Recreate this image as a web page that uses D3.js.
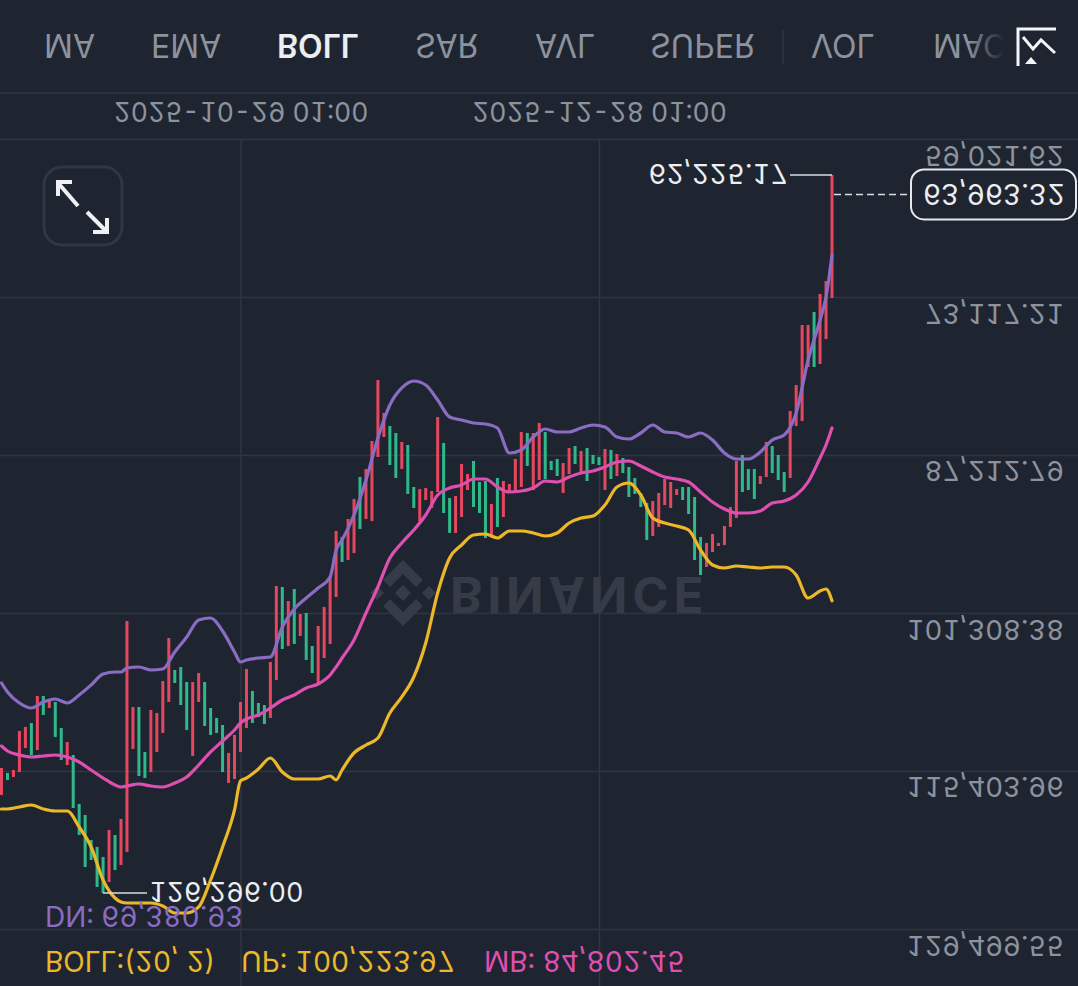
<!DOCTYPE html>
<html>
<head>
<meta charset="utf-8">
<script src="https://cdn.jsdelivr.net/npm/d3@7/dist/d3.min.js"></script>
<style>
    html, body { margin: 0; padding: 0; background: #1f2530; }
    svg { display: block; }
    text { font-family: Inter, "Noto Sans", sans-serif; font-variant-numeric: tabular-nums; font-feature-settings: "tnum" 1; }
</style>
</head>
<body>
<svg id="chart" width="1078" height="986"></svg>
<script>
// the whole screenshot is upside down, so low prices sit at the top and every label is mirrored
const tabs = ["MA", "EMA", "BOLL", "SAR", "AVL", "SUPER", "VOL", "MACD"];
const activeTab = "BOLL";
const priceTicks = [59021.62, 73117.21, 87212.79, 101308.38, 115403.96, 129499.55];
const dateTicks = ["2025-10-29 01:00", "2025-12-28 01:00"];
const firstDay = "2025-09-19 01:00";
const lastPrice = 63963.32;

const candleColors = [
    "rgrrrgrgrg", "grggggggrg", "rrrggrrrrg", "ggrrggggrr", "rrgggrrgrg", "rggrrrrgrr", "grrrrggrgg",
    "rrrrggrrrg", "ggrgrrrrgr", "rgggrrgrgg", "grgrgggggr", "rrrrggggrr", "rrrrgggrrg", "ggrrrrgrrr"
].join("").split("");
const candleLows = [
    115136, 115582, 115314, 111834, 111477, 111121, 108712, 108712, 109069, 109247,
    111567, 112815, 113975, 118347, 119328, 121558, 122182, 123074, 120666, 121112,
    119685, 102021, 109693, 109693, 113707, 109961, 110229, 107374, 103538, 106393,
    106125, 107463, 107463, 106660, 107463, 109783, 110675, 111299, 113796, 112191,
    109247, 106303, 108266, 109336, 109515, 105679, 98899, 98988, 100237, 99167,
    101397, 101308, 104251, 102467, 100772, 98096, 93992, 94527, 92922, 91138,
    89175, 88462, 85963, 80522, 83466, 84625, 85250, 86052, 86320, 90068,
    90247, 90157, 90425, 83823, 86141, 91049, 90870, 88016, 88908, 87747,
    89621, 89532, 91584, 89264, 89532, 89799, 87569, 85160, 85250, 85250,
    84357, 85160, 87747, 87569, 87926, 86587, 86409, 86855, 86587, 87212,
    87390, 86676, 86765, 87123, 87479, 88283, 89264, 90603, 91495, 91316,
    90603, 89354, 89621, 90247, 90068, 90068, 90959, 94527, 95062, 94260,
    95062, 93546, 91851, 87747, 87212, 88462, 88462, 89086, 86052, 86409,
    87212, 88730, 83287, 80968, 75615, 75615, 74456, 72850, 71690, 62225.17
];
const candleHighs = [
    117544, 116206, 115938, 115492, 113351, 113975, 113529, 110407, 109783, 112369,
    114422, 114868, 118704, 121112, 123967, 123343, 125751, 126296, 125305, 124235,
    123789, 122628, 113440, 115849, 116028, 115492, 113707, 112013, 109247, 107552,
    109515, 111745, 114064, 109247, 111388, 112191, 112013, 115492, 116474, 116117,
    113707, 111567, 111121, 110586, 111210, 110675, 107285, 104519, 104251, 104073,
    103360, 105501, 106660, 107552, 105323, 104073, 99880, 96757, 96580, 95955,
    93813, 92922, 93100, 87390, 85606, 88105, 89264, 88462, 90692, 91941,
    93100, 91227, 91941, 90514, 92387, 94170, 94170, 92744, 90336, 91851,
    92387, 94616, 94349, 93635, 92744, 90514, 90514, 90068, 88194, 90336,
    89443, 89354, 88551, 89086, 90603, 88908, 88016, 88819, 89532, 88016,
    88105, 90336, 89354, 89086, 88819, 90959, 90692, 91851, 94795, 94438,
    93635, 91673, 91941, 90781, 91227, 92476, 96580, 97918, 97203, 95866,
    95330, 95241, 93635, 92833, 90514, 90336, 91138, 89799, 89175, 88819,
    89443, 90514, 89264, 84625, 84179, 79362, 79362, 79095, 76864, 73207
];

const bandDays = [
    0, 1, 3, 5, 7, 9, 11, 13, 15, 17, 19, 20, 21, 23, 25, 27, 29, 31, 33, 35, 37, 39, 40, 41, 43, 45, 47, 49, 51, 53, 55, 56, 57,
    59, 61, 63, 65, 67, 69, 71, 73, 75, 77, 79, 81, 83, 85, 87, 89, 91, 93, 95, 97, 99, 101, 103, 105, 107, 109,
    111, 113, 115, 117, 119, 121, 123, 125, 127, 129, 131, 133, 135, 137, 138, 139
];
const bollUp = [
    118793, 118793, 118614, 118436, 118793, 118971, 118971, 120398, 122182, 125127, 126733, 127089, 127178, 127178, 127178, 127446,
    128071, 128071, 127535, 125127, 122182, 118882, 116295, 116028, 115225, 114243, 115492, 116117, 116117, 116117, 115849, 116206, 115314,
    113796, 113083, 112458, 110229, 108801, 107017, 103984, 99524, 96401, 95240, 94349, 94260, 94616, 93992, 93992, 94170, 94438, 94170,
    93279, 92833, 92655, 91673, 90068, 89710, 90781, 92833,
    93279, 93546, 93903, 95687, 97025, 97293, 97114, 97203, 97293, 97203, 97203, 97918, 99969, 99345, 99167, 100223.97
];
const bollMid = [
    113172, 113618, 113975, 114154, 114064, 113975, 114154, 114600, 115314, 116028, 116652, 116831, 116742, 116563, 116742, 116831,
    116474, 115938, 114868, 113707, 112726, 111745, 111121, 110764, 110407, 109783, 109069, 108623, 107999, 107641, 106838, 106125, 105323,
    103716, 101308, 98988, 96401, 95062, 93903, 92565, 90781, 90157, 89888, 89354, 89354, 90068, 90514, 90425, 90157, 89532, 89621,
    89175, 88819, 88640, 88283, 87837, 87747, 88194, 88730,
    89175, 89354, 89621, 90514, 91405, 92030, 92387, 92387, 92208, 91495, 91316, 90781, 89621, 87479, 86320, 84802.45
];
const bollDn = [
    107552, 108355, 109336, 109783, 109247, 108980, 109336, 108623, 107730, 106749, 106571, 106571, 106214, 106125, 106393, 106303,
    104787, 103449, 101932, 101754, 102913, 104787, 105679, 105501, 105323, 105234, 102556, 100950, 99969, 99078, 98096, 95687, 94795,
    92565, 89443, 85696, 82752, 81235, 80611, 80968, 82306, 83823, 84090, 84357, 84447, 84802, 87034, 86765, 85606, 84893, 85160,
    85160, 84802, 84536, 84714, 85606, 85785, 85250, 84536,
    85160, 85250, 85606, 85250, 85874, 87034, 87569, 87569, 86945, 85874, 85428, 83466, 78738, 75170, 73117, 69380.93
];

const W = 1078, H = 986;
const BG = "#1f2530", GRID = "#2f3541", GRAY = "#8c939e", WHITE = "#eceef1";
const RED = "#e5475f", GREEN = "#2fb98a", YELLOW = "#ecb82a", PINK = "#df4fb2", PURPLE = "#8a6cc2";

const parseDate = d3.utcParse("%Y-%m-%d %H:%M");
const fmtDate = d3.utcFormat("%Y-%m-%d %H:%M");
const fmtPrice = d3.format(",.2f");
const dayOf = i => d3.utcDay.offset(parseDate(firstDay), i);

const x = d3.scaleUtc().domain([dayOf(0), dayOf(candleLows.length - 1)]).range([1.5, 832]);
const y = d3.scaleLinear().domain([priceTicks[0], priceTicks[priceTicks.length - 1]]).range([139, 929]);

const svg = d3.select("#chart");
svg.append("rect").attr("width", W).attr("height", H).attr("fill", BG);

// mirrored text: the baseline ends up on the upper edge of the glyphs
function flipText(parent, px, py, str, size, fill, anchor = "start", weight = 400) {
    return parent.append("text")
        .attr("transform", `translate(${px},${py}) scale(1,-1)`)
        .attr("text-anchor", anchor)
        .attr("font-size", size)
        .attr("font-weight", weight)
        .attr("fill", fill)
        .text(str);
}

// axes
const priceAxis = svg.append("g")
    .attr("transform", `translate(${W},0)`)
    .call(d3.axisRight(y).tickValues(priceTicks).tickSize(-W).tickFormat(fmtPrice));
const dateAxis = svg.append("g")
    .attr("transform", "translate(0,139)")
    .call(d3.axisTop(x).tickValues(dateTicks.map(parseDate)).tickSize(-(H - 139)).tickFormat(fmtDate));
priceAxis.select(".domain").remove();
dateAxis.select(".domain").remove();
svg.selectAll(".tick line").attr("stroke", GRID).attr("stroke-width", 1.5);
priceAxis.selectAll("text")
    .attr("x", 0).attr("y", 0).attr("dy", null)
    .attr("transform", "translate(-14,6) scale(1,-1)")
    .attr("text-anchor", "end").attr("font-size", 27.5).attr("fill", GRAY);
dateAxis.selectAll("text")
    .attr("x", 0).attr("y", 0).attr("dy", null)
    .attr("transform", "translate(0,-37) scale(1,-1)")
    .attr("text-anchor", "middle").attr("font-size", 26.5).attr("fill", GRAY);

// header
svg.append("line").attr("x1", 0).attr("x2", W).attr("y1", 93).attr("y2", 93).attr("stroke", GRID).attr("stroke-width", 1.5);
const tabX = [44, 151, 277, 415, 535, 650, 811, 933];
const header = svg.append("g");
tabs.forEach((t, i) => flipText(header, tabX[i], 34, t, 32, t === activeTab ? WHITE : GRAY, "start", t === activeTab ? 600 : 400));
svg.append("line").attr("x1", 783).attr("x2", 783).attr("y1", 30).attr("y2", 64).attr("stroke", GRID).attr("stroke-width", 1.5);

const fade = svg.append("defs").append("linearGradient").attr("id", "tabFade");
fade.append("stop").attr("offset", 0).attr("stop-color", BG).attr("stop-opacity", 0);
fade.append("stop").attr("offset", 0.33).attr("stop-color", BG).attr("stop-opacity", 1);
svg.append("rect").attr("x", 968).attr("y", 20).attr("width", 110).attr("height", 60).attr("fill", "url(#tabFade)");

// chart type icon
const icon = svg.append("g").attr("fill", "none").attr("stroke", "#f4f5f7").attr("stroke-width", 3);
icon.append("path").attr("d", "M1056,29H1018V66");
icon.append("path").attr("d", "M1023,37L1033,49L1041,40L1055,53");
icon.append("path").attr("d", "M1025,64L1031,57L1037,64Z").attr("fill", "#f4f5f7").attr("stroke", "none");

// watermark
const mark = svg.append("g").attr("transform", "translate(403,593)").attr("fill", "#363c47");
mark.append("path").attr("d", "M0,-8L8,0L0,8L-8,0Z");
mark.append("path").attr("d", "M-26,-7L-19,0L-26,7L-33,0Z");
mark.append("path").attr("d", "M26,-7L33,0L26,7L19,0Z");
mark.append("path").attr("d", "M0,-33L20,-13L13,-6L0,-19L-13,-6L-20,-13Z");
mark.append("path").attr("d", "M0,33L20,13L13,6L0,19L-13,6L-20,13Z");
flipText(svg, 450, 577, "BINANCE", 49, "#363c47", "start", 700).attr("letter-spacing", 5);

// expand button
svg.append("rect").attr("x", 44).attr("y", 167).attr("width", 78).attr("height", 78).attr("rx", 18)
    .attr("fill", "none").attr("stroke", "#313742").attr("stroke-width", 3);
const expand = svg.append("g").attr("fill", "none").attr("stroke", "#eef0f3").attr("stroke-width", 4);
expand.append("path").attr("d", "M78,206L59,184M58,196V182H72");
expand.append("path").attr("d", "M87,212L107,232M107,218V232H93");

// candles
svg.append("g").selectAll("rect")
    .data(candleLows.map((low, i) => ({low, high: candleHighs[i], color: candleColors[i], day: dayOf(i)})))
    .join("rect")
    .attr("x", d => x(d.day) - 1.5)
    .attr("width", 3)
    .attr("y", d => y(d.low))
    .attr("height", d => y(d.high) - y(d.low))
    .attr("fill", d => d.color === "r" ? RED : GREEN);

// bollinger bands
const line = d3.line().x(d => x(dayOf(d.day))).y(d => y(d.value)).curve(d3.curveMonotoneX);
[[bollUp, YELLOW], [bollMid, PINK], [bollDn, PURPLE]].forEach(([values, color]) => {
    svg.append("path")
        .datum(values.map((value, i) => ({value, day: bandDays[i]})))
        .attr("d", line)
        .attr("fill", "none")
        .attr("stroke", color)
        .attr("stroke-width", 3.2)
        .attr("stroke-linejoin", "round")
        .attr("stroke-linecap", "round");
});

// extreme price callouts
const minLow = d3.min(candleLows), maxHigh = d3.max(candleHighs);
const minX = x(dayOf(candleLows.indexOf(minLow))), maxX = x(dayOf(candleHighs.indexOf(maxHigh)));
svg.append("line").attr("x1", minX).attr("x2", 790).attr("y1", y(minLow)).attr("y2", y(minLow)).attr("stroke", "#d8dbe0").attr("stroke-width", 1.5);
flipText(svg, 788, y(minLow) - 11, fmtPrice(minLow), 27.5, WHITE, "end");
svg.append("line").attr("x1", maxX).attr("x2", 147).attr("y1", y(maxHigh)).attr("y2", y(maxHigh)).attr("stroke", "#d8dbe0").attr("stroke-width", 1.5);
flipText(svg, 149, y(maxHigh) - 11, fmtPrice(maxHigh), 27, WHITE);

// current price tag
svg.append("line").attr("x1", 834).attr("x2", 911).attr("y1", y(lastPrice)).attr("y2", y(lastPrice))
    .attr("stroke", "#d8dbe0").attr("stroke-width", 1.5).attr("stroke-dasharray", "7,4");
svg.append("rect").attr("x", 911).attr("y", y(lastPrice) - 25).attr("width", 165).attr("height", 50).attr("rx", 13)
    .attr("fill", BG).attr("stroke", "#e6e8ec").attr("stroke-width", 2);
flipText(svg, 994, y(lastPrice) - 10, fmtPrice(lastPrice), 28, WHITE, "middle");

// legend
const last = a => a[a.length - 1];
flipText(svg, 45, 906, `DN: ${fmtPrice(last(bollDn))}`, 28, PURPLE);
flipText(svg, 45, 951, "BOLL:(20, 2)", 28, YELLOW);
flipText(svg, 241, 951, `UP: ${fmtPrice(last(bollUp))}`, 28, YELLOW);
flipText(svg, 484, 951, `MB: ${fmtPrice(last(bollMid))}`, 28, PINK);
</script>
</body>
</html>
